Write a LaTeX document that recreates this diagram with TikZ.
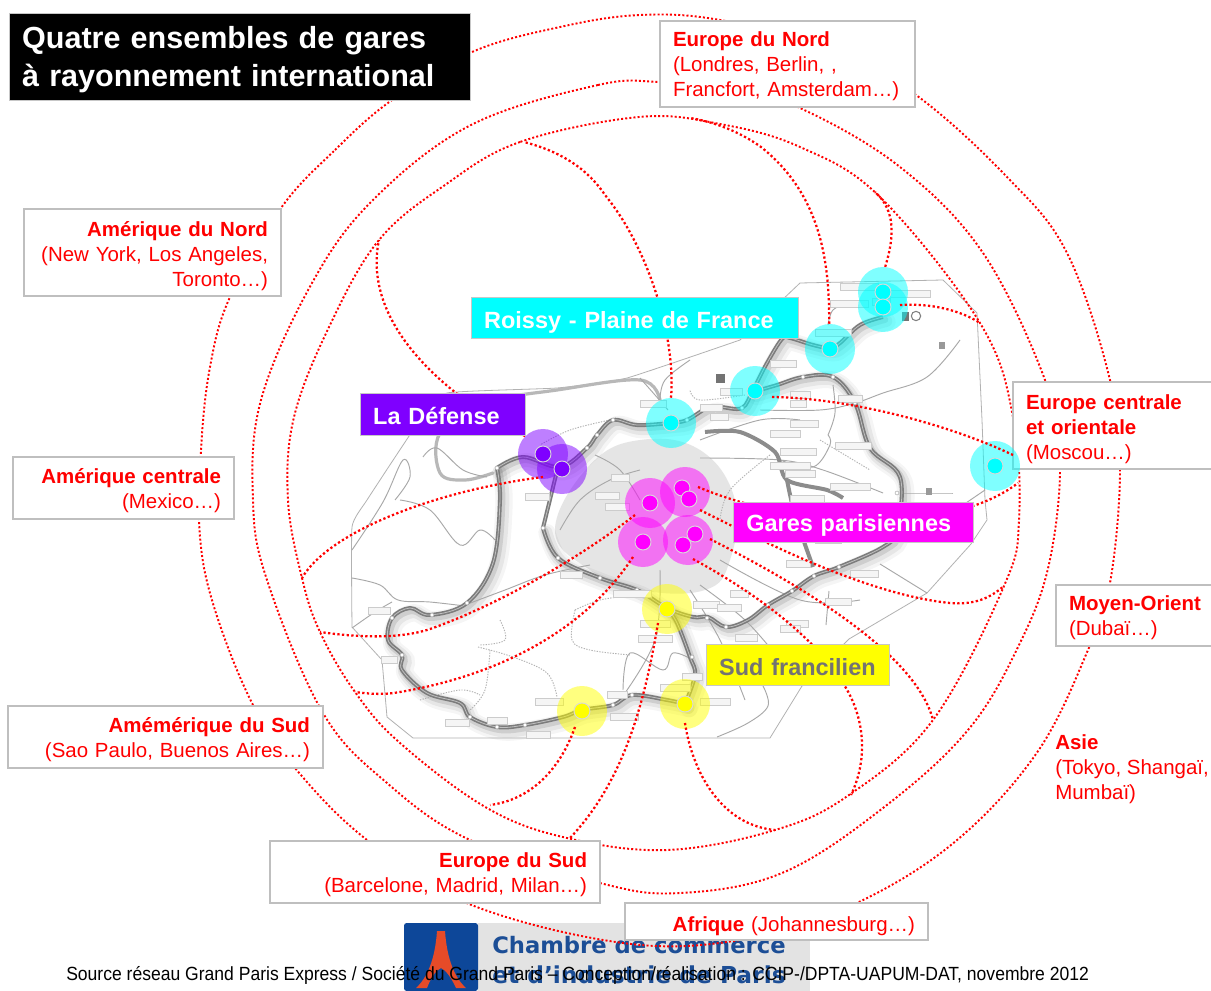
\documentclass[tikz,border=0pt]{standalone}
\usepackage{fontspec}
\setmainfont{Liberation Sans}
\newfontfamily\logofont{DejaVu Sans}
\newfontfamily\srcfont[FakeStretch=.92]{Liberation Sans}
\definecolor{rouge}{HTML}{FF0000}
\definecolor{violet}{HTML}{7F00FF}
\definecolor{mag}{HTML}{FF00FF}
\definecolor{cya}{HTML}{00FFFF}
\definecolor{jau}{HTML}{FFFF00}
\definecolor{rail}{HTML}{7C7C7C}
\definecolor{thin}{HTML}{A8A8A8}
\hyphenpenalty=10000\relax
\exhyphenpenalty=10000\relax
\newcommand{\lab}{\frenchspacing\fontsize{15.35}{18.75}\selectfont\color{rouge}}
\newcommand{\cfont}{\bfseries\fontsize{17.6}{20}\selectfont}
\newcommand{\tfont}{\bfseries\fontsize{22.9}{28.5}\selectfont}
\newcommand{\rl}[1]{\rule{0pt}{#1pt}}
\tikzset{
 ringline/.style={draw=rouge,line width=1.45pt,dash pattern=on 1.5pt off 1.6pt},
 spur/.style={draw=rouge,line width=1.7pt,dash pattern=on 1.7pt off 1.8pt},
 halo/.style={circle,inner sep=0pt,minimum size=37.5pt,fill opacity=.5,fill=#1},
 stn/.style={circle,inner sep=0pt,minimum size=12pt,fill=#1,draw=white!85!black,line width=.7pt},
 lbox/.style={rectangle,inner sep=0pt,fill=white,draw=black!25,line width=.8pt,font=\lab},
 tbox/.style={rectangle,inner sep=0pt,draw=black!22,line width=.7pt,text=white,align=left},
 cbox/.style={tbox,font=\cfont,text height=19pt,text depth=3pt},
 thinline/.style={draw=thin,line width=.7pt},
 greydots/.style={draw=black!30,line width=.7pt,dash pattern=on 1pt off 1pt},
}
\newcommand{\mapThin}[1]{\draw[thinline] plot[smooth,tension=.6] coordinates {#1};}
\newcommand{\mapDots}[1]{\draw[greydots] plot[smooth,tension=.6] coordinates {#1};}
\newcommand{\mapRail}[1]{%
 \draw[black,opacity=.04,line width=13pt,line cap=round,xshift=3pt,yshift=-3.5pt] plot[smooth,tension=.6] coordinates {#1};
 \draw[black,opacity=.06,line width=9pt,line cap=round,xshift=2.5pt,yshift=-3pt] plot[smooth,tension=.6] coordinates {#1};
 \draw[black,opacity=.10,line width=5pt,line cap=round,xshift=1.5pt,yshift=-2pt] plot[smooth,tension=.6] coordinates {#1};
}
\newcommand{\mapRailTop}[1]{%
 \draw[rail,line width=3pt] plot[smooth,tension=.6] coordinates {#1};
 \draw[black!25,line width=.6pt] plot[smooth,tension=.6] coordinates {#1};
}
\begin{document}
\begin{tikzpicture}[x=0.75pt,y=-0.75pt]
\useasboundingbox (0,0) rectangle (1211,991);
\fill[white] (0,0) rectangle (1211,991);

% ---------- map ----------
\draw[draw=black!30,line width=.6pt,fill=white] plot[smooth,tension=.25] coordinates {(352,627)(352,527)(367,500)(420,420)(447,393)(557,388)(627,378)(740,340)} -- (800,283) -- (943,280) -- (977,313) -- (982,420) -- (985,500) -- (987,520) -- (971,544) -- (927,593) -- (849,639) -- (802,686) -- (770,738) -- (413,738) -- (387,717) -- (382,660) -- cycle;
\fill[black!10] plot[smooth cycle,tension=.7] coordinates {(590,465)(640,440)(700,450)(735,500)(730,560)(705,590)(640,590)(590,570)(555,530)};
% shadow
\mapRail{(497,468)(500,500)(493,563)(467,603)(430,615)(410,608)(392,618)(388,640)(402,655)(402,670)(427,693)(460,703)(470,717)(497,727)(525,725)(563,717)(582,710)(613,705)(632,695)(667,700)(685,704)}
\mapRail{(883,317)(860,325)(840,343)(830,348)(813,345)(790,338)(782,339)(767,363)(753,390)(742,408)(720,407)(707,408)(687,420)(670,423)(637,425)(613,420)(597,435)(587,448)(560,467)(523,457)(497,468)}
\mapRail{(543,528)(558,558)(600,578)(637,590)(667,608)(693,617)(708,617)(726,627)(748,620)(768,605)(792,591)(814,576)(839,567)(883,547)(897,530)(900,477)(870,448)(855,403)(833,377)(803,377)(777,385)(753,392)}
\mapRail{(685,704)(695,675)(690,657)(677,623)(667,608)}
% rivers and thin lines
\draw[black!28,line width=2.4pt,line cap=round] plot[smooth,tension=.6] coordinates {(493,473)(465,480)(440,473)(440,433)(483,403)(557,390)(640,380)(660,400)};
\mapThin{(352,578)(380,585)(398,600)(430,602)(465,606)}
\mapThin{(352,628)(375,612)(392,602)}
\mapThin{(352,550)(383,502)(403,460)(410,477)(395,500)}
\mapThin{(423,457)(437,448)(463,470)(487,477)}
\mapThin{(400,500)(430,510)(460,545)(480,530)(495,540)}
\mapThin{(623,690)(630,653)(663,670)(673,653)(693,660)}
\mapThin{(960,340)(927,377)(883,393)(855,403)(820,410)(760,410)}
\mapThin{(953,493)(900,493)}
\mapThin{(963,505)(985,490)}
\mapThin{(828,435)(835,413)(833,385)}
\mapThin{(828,435)(830,445)(813,467)(780,460)}
\mapThin{(700,458)(780,460)(823,470)(883,493)}
\mapThin{(850,302)(833,310)(828,325)}
\mapThin{(880,564)(927,593)}
\mapThin{(829,591)(826,625)}
\mapThin{(763,686)(768,706)(748,723)(717,737)}
\mapThin{(465,605)(505,590)(545,575)(590,565)}
\mapThin{(595,455)(620,470)(640,500)}
\mapThin{(640,378)(655,395)(668,410)}
\mapThin{(690,360)(665,380)(660,400)}
\mapThin{(560,530)(580,500)(610,480)(640,470)}
\mapThin{(690,590)(720,640)(745,700)}
\mapThin{(700,585)(745,620)(780,660)}
\mapThin{(660,570)(655,640)(620,700)}
\mapThin{(720,560)(800,600)(860,600)}
\mapThin{(700,440)(760,420)(800,420)}
\mapDots{(478,647)(513,657)(547,673)(557,697)}
\mapDots{(500,620)(505,640)(480,645)}
\mapDots{(575,610)(600,600)(635,595)}
\mapDots{(575,610)(572,640)(590,650)(630,655)}
\mapDots{(420,700)(460,690)(480,695)}
\mapDots{(490,650)(485,690)(470,710)}
\mapDots{(745,395)(700,400)(690,390)}
\mapDots{(470,435)(480,425)(505,410)}
\mapDots{(820,440)(870,470)}
\mapDots{(770,455)(730,490)(720,520)}
\mapDots{(610,420)(570,430)(540,445)}
% light thick line
\draw[black!45,line width=3pt,line join=round] plot[smooth,tension=.5] coordinates {(705,432)(740,432)(775,452)(787,480)(827,490)(843,498)};
\draw[black!45,line width=3pt] plot[smooth,tension=.5] coordinates {(787,480)(795,515)(813,567)};
% rails
\mapRailTop{(497,468)(500,500)(493,563)(467,603)(430,615)(410,608)(392,618)(388,640)(402,655)(402,670)(427,693)(460,703)(470,717)(497,727)(525,725)(563,717)(582,710)(613,705)(632,695)(667,700)(685,704)}
\mapRailTop{(883,317)(860,325)(840,343)(830,348)(813,345)(790,338)(782,339)(767,363)(753,390)(742,408)(720,407)(707,408)(687,420)(670,423)(637,425)(613,420)(597,435)(587,448)(560,467)(523,457)(497,468)}
\mapRailTop{(543,528)(558,558)(600,578)(637,590)(667,608)(693,617)(708,617)(726,627)(748,620)(768,605)(792,591)(814,576)(839,567)(883,547)(897,530)(900,477)(870,448)(855,403)(833,377)(803,377)(777,385)(753,392)}
\mapRailTop{(685,704)(695,675)(690,657)(677,623)(667,608)}
\mapRailTop{(556,475)(543,528)}
% stations
\foreach \x/\y in {497/468,543/528,558/558,600/578,637/590,707/618,726/627,768/605,792/591,814/576,839/567,897/493,855/403,833/377,803/377,742/408,707/408,687/420,613/420,597/435,587/448,467/603,432/615,392/618,402/655,470/717,497/727,525/725,613/705,632/695,695/675,692/657}{
 \fill[white,draw=black!40,line width=.3pt] (\x,\y) circle (1.5pt);
}
% small map label plates
\foreach \x/\y/\w in {368/607/22,381/656/16,445/719/24,487/717/20,526/731/24,535/698/28,607/691/20,610/713/28,660/684/30,682/673/20,693/601/26,717/604/24,735/634/22,730/590/18,640/620/30,638/635/34,613/590/38,560/571/22,595/492/24,525/493/24,611/474/18,605/503/24,700/404/22,640/400/26,720/388/22,710/413/18,790/400/16,790/391/20,838/395/24,835/442/36,830/300/38,815/329/36,840/283/38,890/290/40,872/298/18,770/360/26,790/420/28,770/430/30,770/462/40,780/448/36,790/495/34,785/470/30,795/515/36,830/483/40,815/536/26,825/598/26,850/570/28,786/560/24,786/620/22,780/625/20,740/662/22,800/655/18,700/698/30}{
 \draw[fill=black!4,draw=black!20,line width=.4pt] (\x,\y) rectangle ++(\w,7);
}
\fill[black!55] (716,374) rectangle ++(9,9);
\fill[black!55] (902,312) rectangle ++(7,9);
\draw[black!50,line width=.8pt] (916,316) circle (3.5pt);
\fill[black!40] (939,342) rectangle ++(6,7);
\fill[black!40] (926,488) rectangle ++(6,7);

% ---------- logo ----------
\fill[black!11] (478,923) rectangle (810,991);
\fill[fill={rgb,255:red,13;green,71;blue,153},rounded corners=2pt] (404,923) rectangle (478,991);
\fill[fill={rgb,255:red,230;green,75;blue,40}] (437,931) -- (445,931) .. controls (447,960) and (455,978) .. (466,988) -- (456,988) .. controls (450,975) and (445,970) .. (441,968) .. controls (437,970) and (432,975) .. (427,988) -- (416,988) .. controls (427,978) and (435,960) .. (437,931) -- cycle;
\node[anchor=base west,inner sep=0pt,text={rgb,255:red,28;green,78;blue,150}] (logoA) at (492,953) {\logofont\bfseries\fontsize{17}{20}\selectfont Chambre de commerce};
\node[anchor=base west,inner sep=0pt,text={rgb,255:red,28;green,78;blue,150}] (logoB) at (492,983) {\logofont\bfseries\fontsize{17.5}{20}\selectfont et d’industrie de Paris};

% ---------- halos ----------
\node[halo=cya] (hS) at (671,423) {};
\node[halo=cya] (hB) at (755,391) {};
\node[halo=cya] (hP) at (830,349) {};
\node[halo=cya] (hCa) at (883,292) {};
\node[halo=cya] (hCb) at (883,307) {};
\node[halo=violet] (hDa) at (543,454) {};
\node[halo=violet] (hDb) at (562,469) {};
\node[halo=mag] (hGa) at (650,503) {};
\node[halo=mag] (hGb) at (685,492) {};
\node[halo=mag] (hGc) at (643,542) {};
\node[halo=mag] (hGd) at (688,540) {};
\node[halo=jau] (hO) at (667,609) {};
\node[halo=jau] (hY) at (582,711) {};
\node[halo=jau] (hZ) at (685,704) {};
\foreach \n/\c/\x/\y in {dS/cya/671/423,dB/cya/755/391,dP/cya/830/349,dCa/cya/883/292,dCb/cya/883/307,dDa/violet/543/454,dDb/violet/562/469,dGa/mag/650/503,dGb/mag/682/488,dGe/mag/689/499,dGc/mag/643/542,dGd/mag/683/545,dGf/mag/695/534,dO/jau/667/609,dY/jau/582/711,dZ/jau/685/704}{
 \node[stn=\c] (\n) at (\x,\y) {};
}

% ---------- spur start / junction points ----------
\coordinate (jNW) at (379,240);
\coordinate (jTL) at (524,142);
\coordinate (jTR) at (690,118);
\coordinate (jNE) at (875,192);
\coordinate (jE) at (980,323);
\coordinate (jEs) at (1018,483);
\coordinate (jEb) at (1004,586);
\coordinate (jSEa) at (933,720);
\coordinate (jSEb) at (851,795);
\coordinate (jSEc) at (775,830);
\coordinate (jSa) at (570,838);
\coordinate (jSb) at (490,805);
\coordinate (jWa) at (355,692);
\coordinate (jWb) at (320,632);
\coordinate (jWc) at (302,578);
\coordinate (sCb) at (900,305);
\coordinate (sB) at (772,397);
\coordinate (sM) at (1013,455);
\coordinate (sGb) at (698,487);
\coordinate (sL) at (700,510);
\coordinate (sA) at (710,539);
\coordinate (sC) at (693,559);
\coordinate (sD) at (685,723);
\coordinate (sE) at (575,727);
\coordinate (sF) at (658,623);
\coordinate (sG) at (635,515);
\coordinate (sH) at (633,557);
\coordinate (sI) at (543,477);

% ---------- rings ----------
\draw[ringline] plot[smooth cycle,tension=.62] coordinates {(281,208)(335,150)(392,100)(472,52)(560,27)(640,15)(720,20)(830,48)(916,95)(1007,177)(1067,253)(1110,380)(1120,470)(1110,583)(1088,650)(1036,754)(951,845)(846,908)(740,940)(623,943)(469,904)(367,840)(295,768)(252,703)(215,610)(200,537)(201,450)(210,367)(230,297)};
\draw[ringline] plot[smooth cycle,tension=.62] coordinates {(660,82)(598,85)(471,125)(373,200)(312,283)(261,400)(253,500)(267,580)(323,713)(387,783)(470,840)(600,883)(680,893)(782,873)(883,808)(968,730)(1019,645)(1049,564)(1060,460)(1045,380)(983,253)(900,167)(800,108)(730,88)};
\draw[ringline] plot[smooth cycle,tension=.62] coordinates {(639,117)(520,142)(445,185)(379,240)(330,325)(294,417)(288,500)(302,578)(320,632)(355,692)(400,743)(487,808)(567,838)(667,850)(775,830)(849,795)(933,720)(1004,586)(1019,520)(1013,417)(980,323)(880,197)(800,147)(720,124)};

% ---------- spurs ----------
\draw[spur] (hDa.135) .. controls (460,405) and (360,330) .. (jNW);
\draw[spur] (hS.90) .. controls (676,340) and (650,250) .. (605,195) .. controls (585,165) and (555,150) .. (jTL);
\draw[spur] (hP.92) .. controls (830,250) and (815,190) .. (761,147) .. controls (740,132) and (715,122) .. (jTR);
\draw[spur] (hCa.85) .. controls (895,235) and (895,210) .. (jNE);
\draw[spur] (sCb) .. controls (930,303) and (960,310) .. (jE);
\draw[spur] (sGb) .. controls (800,530) and (950,535) .. (jEs);
\draw[spur] (sL) .. controls (770,545) and (870,595) .. (950,603) .. controls (975,605) and (990,598) .. (jEb);
\draw[spur] (sA) .. controls (790,580) and (915,650) .. (jSEa);
\draw[spur] (sC) .. controls (750,590) and (815,635) .. (846,688) .. controls (862,715) and (870,755) .. (jSEb);
\draw[spur] (sD) .. controls (692,770) and (720,825) .. (jSEc);
\draw[spur] (sE) .. controls (560,770) and (530,800) .. (jSb);
\draw[spur] (sF) .. controls (645,700) and (625,780) .. (jSa);
\draw[spur] (sG) .. controls (590,550) and (510,600) .. (433,628) .. controls (400,640) and (355,637) .. (jWb);
\draw[spur] (sH) .. controls (585,630) and (500,675) .. (400,692) .. controls (385,695) and (370,694) .. (jWa);
\draw[spur] (sI) .. controls (440,490) and (330,530) .. (jWc);

% ---------- coloured boxes ----------
\node[tbox,fill=black,minimum width=345.75pt,minimum height=65.25pt,text width=326pt,font=\tfont] (titre) at (239.5,56.5) {\rl{21}Quatre ensembles de gares\\à rayonnement international};
\node[cbox,fill=cya,minimum width=245.25pt,minimum height=30.75pt,text width=225.5pt] (roissy) at (634.5,317.5) {Roissy - Plaine de France};
\node[cbox,fill=violet,minimum width=123.75pt,minimum height=31.5pt,text width=104pt] (def) at (442.5,414) {La Défense};
\node[cbox,fill=mag,minimum width=180pt,minimum height=30pt,text width=160pt,text height=17pt] (gar) at (853,522) {Gares parisiennes};
\node[cbox,fill=jau,text=black!55,minimum width=137.25pt,minimum height=30.75pt,text width=117.5pt] (sud) at (797.5,664.5) {Sud francilien};

% ---------- region boxes ----------
\node[lbox,minimum width=191.25pt,minimum height=64.5pt,text width=171.75pt,align=left] (eun) at (787.5,64) {\rl{14.5}\textbf{Europe du Nord}\\(Londres, Berlin, ,\\Francfort, Amsterdam…)};
\node[lbox,minimum width=152.25pt,minimum height=65.25pt,text width=132.75pt,align=left] (euc) at (1114.5,425.5) {\rl{16.5}\textbf{Europe centrale}\\\textbf{et orientale}\\(Moscou…)};
\node[lbox,minimum width=120pt,minimum height=45.75pt,text width=100.5pt,align=left] (moy) at (1136,615.5) {\rl{15}\textbf{Moyen-Orient}\\(Dubaï…)};
\node[anchor=west,inner sep=0pt,align=left,font=\lab] (asie) at (1055,769) {\textbf{Asie}\\(Tokyo, Shangaï,\\Mumbaï)};
\node[lbox,minimum width=192.75pt,minimum height=65.25pt,text width=173.25pt,align=right] (amn) at (152.5,252.5) {\rl{16.5}\textbf{Amérique du Nord}\\(New York, Los Angeles,\\Toronto…)};
\node[lbox,minimum width=165.75pt,minimum height=46.5pt,text width=146.25pt,align=right] (amc) at (123.5,488) {\rl{15}\textbf{Amérique centrale}\\(Mexico…)};
\node[lbox,minimum width=236.25pt,minimum height=46.5pt,text width=216.75pt,align=right] (ams) at (165.5,737) {\rl{15}\textbf{Amémérique du Sud}\\(Sao Paulo, Buenos Aires…)};
\node[lbox,minimum width=247.5pt,minimum height=46.5pt,text width=228pt,align=right] (eus) at (435,872) {\rl{15}\textbf{Europe du Sud}\\(Barcelone, Madrid, Milan…)};
\node[lbox,minimum width=227.25pt,minimum height=27.75pt,text width=207.75pt,align=right] (afr) at (776.5,921.5) {\rl{17.5}\textbf{Afrique} (Johannesburg…)};

% ---------- Moscou station, over its box ----------
\node[halo=cya] (hM) at (995,466) {};
\node[stn=cya] (dM) at (995,466) {};
\draw[spur] (sB) .. controls (850,398) and (950,425) .. (sM);

% ---------- source ----------
\node[anchor=base west,inner sep=0pt,font=\srcfont\fontsize{14.3}{16}\selectfont] (src) at (66,980) {Source réseau Grand Paris Express / Société du Grand Paris – Conception/réalisation : CCIP-/DPTA-UAPUM-DAT, novembre 2012};
\end{tikzpicture}
\end{document}
